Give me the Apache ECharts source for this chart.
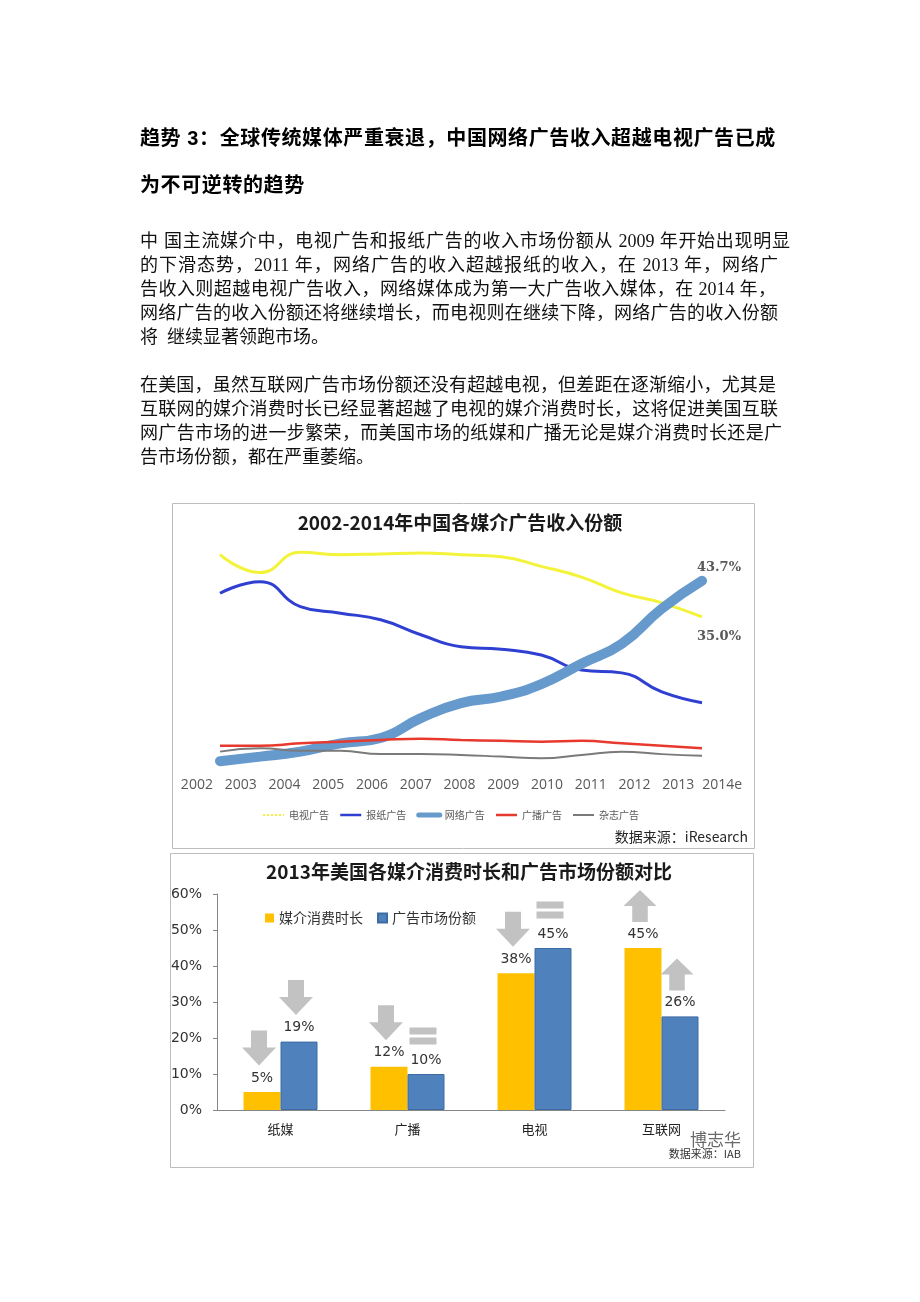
<!DOCTYPE html>
<html><head><meta charset="utf-8">
<script src="https://cdn.jsdelivr.net/npm/echarts@6/dist/echarts.min.js"></script>
<style>
html,body{margin:0;padding:0;background:#fff;}
#page{position:relative;width:920px;height:1302px;overflow:hidden;background:#fff;}
#chart{position:absolute;left:0;top:0;width:920px;height:1302px;}
.t{position:absolute;left:140px;white-space:nowrap;font-family:"Liberation Sans","Noto Sans CJK SC";font-weight:bold;font-size:20px;letter-spacing:0.6px;line-height:24px;color:#000;}
.p{position:absolute;left:140px;width:638px;font-family:"Liberation Serif","Noto Sans CJK SC";font-size:18px;line-height:24px;color:#111;text-align:justify;text-align-last:justify;}
.p.last{text-align:left;text-align-last:left;white-space:nowrap;}
</style></head>
<body>
<div id="page">
<div id="chart"></div>
<div class="t" style="top:126px">趋势 3：全球传统媒体严重衰退，中国网络广告收入超越电视广告已成</div>
<div class="t" style="top:173px">为不可逆转的趋势</div>
<div class="p" style="top:229px;width:650px">中 国主流媒介中，电视广告和报纸广告的收入市场份额从 2009 年开始出现明显</div>
<div class="p" style="top:253px">的下滑态势，2011 年，网络广告的收入超越报纸的收入，在 2013 年，网络广</div>
<div class="p" style="top:277px;width:636px">告收入则超越电视广告收入，网络媒体成为第一大广告收入媒体，在 2014 年，</div>
<div class="p" style="top:301px">网络广告的收入份额还将继续增长，而电视则在继续下降，网络广告的收入份额</div>
<div class="p last" style="top:325px">将&nbsp; 继续显著领跑市场。</div>
<div class="p" style="top:373px;width:636px">在美国，虽然互联网广告市场份额还没有超越电视，但差距在逐渐缩小，尤其是</div>
<div class="p" style="top:397px">互联网的媒介消费时长已经显著超越了电视的媒介消费时长，这将促进美国互联</div>
<div class="p" style="top:421px;width:642px">网广告市场的进一步繁荣，而美国市场的纸媒和广播无论是媒介消费时长还是广</div>
<div class="p last" style="top:445px">告市场份额，都在严重萎缩。</div>
</div>
<script>
// ---- China ad revenue share (%) 2002-2014e ----
const years = ['2002','2003','2004','2005','2006','2007','2008','2009','2010','2011','2012','2013','2014e'];
const tvShare    = [50.0, 45.7, 50.6, 50.0, 50.2, 50.4, 50.0, 49.5, 47.2, 44.6, 40.8, 38.4, 35.0];
const paperShare = [40.7, 43.5, 37.5, 35.9, 34.3, 30.7, 27.8, 27.2, 25.8, 22.2, 21.5, 16.9, 14.3];
const netShare   = [0.2, 1.3, 2.5, 4.5, 5.8, 10.6, 14.2, 15.8, 18.8, 23.7, 28.5, 37.0, 43.7];
const radioShare = [3.9, 3.9, 4.5, 4.9, 5.3, 5.6, 5.3, 5.1, 4.9, 5.1, 4.5, 3.9, 3.3];
const magShare   = [2.5, 3.3, 2.7, 2.7, 1.9, 1.9, 1.7, 1.3, 0.9, 1.7, 2.5, 1.9, 1.5];
const cnSeriesNames = ['电视广告','报纸广告','网络广告','广播广告','杂志广告'];

// ---- US 2013 media time vs ad share (%) ----
const usCats = ['纸媒','广播','电视','互联网'];
const usTime = [5, 12, 38, 45];
const usAd   = [19, 10, 45, 26];
const usTimeTrend = ['down','down','down','up'];
const usAdTrend   = ['down','equal','equal','up'];
const usTicks = [0, 10, 20, 30, 40, 50, 60];

const ARROWS = {
  down:  {path:'path://M9,0 L25,0 L25,17 L34,17 L17,35 L0,17 L9,17 Z', size:[34,35], dy:-44},
  up:    {path:'path://M17,0 L34,16 L25,16 L25,32 L9,32 L9,16 L0,16 Z', size:[33,32], dy:-42},
  equal: {path:'path://M0,0 L27,0 L27,7 L0,7 Z M0,10 L27,10 L27,17 L0,17 Z', size:[27,17], dy:-38}
};
function trendMarks(vals, trends){
  return {
    silent:true,
    label:{show:false},
    itemStyle:{color:'#C2C2C2'},
    data: vals.map((v,i)=>{
      const a = ARROWS[trends[i]];
      return {coord:[i, v], symbol:a.path, symbolSize:a.size, symbolOffset:[-3, a.dy]};
    })
  };
}

const CJK = '"Noto Sans CJK SC"';
const chart = echarts.init(document.getElementById('chart'), null, {renderer:'canvas'});
function endLbl(dy){
  return {show:true, distance:0, offset:[-5, dy],
    formatter:p=>Number(p.value).toFixed(1)+'%',
    fontFamily:'"DejaVu Serif"', fontWeight:'bold', fontSize:13, color:'#595959'};
}
const legendLine = (name, w, type) => ({name, itemStyle:{opacity:0}, lineStyle:{width:w, type:type||'solid'}});

chart.setOption({
  animation:false,
  backgroundColor:'transparent',
  grid:[
    {left:175, top:534, width:569, height:236},
    {left:220, top:534, width:482, height:228},
    {left:217, top:894, width:508, height:216}
  ],
  xAxis:[
    {gridIndex:0, type:'category', data:years, boundaryGap:true,
     axisLine:{show:false}, axisTick:{show:false},
     axisLabel:{interval:0, margin:8, fontSize:14, color:'#595959', fontFamily:'"Open Sans"'}},
    {gridIndex:1, type:'category', data:years, boundaryGap:false, show:false},
    {gridIndex:2, type:'category', data:usCats,
     axisLine:{lineStyle:{color:'#868686', width:1}}, axisTick:{show:false},
     axisLabel:{margin:13, fontSize:13, color:'#222', fontFamily:CJK}}
  ],
  yAxis:[
    {gridIndex:0, type:'value', show:false},
    {gridIndex:1, type:'value', min:0, max:55, show:false},
    {gridIndex:2, type:'value', min:usTicks[0], max:usTicks[usTicks.length-1], interval:10,
     axisLine:{show:true, lineStyle:{color:'#868686'}},
     axisTick:{show:true, length:4, lineStyle:{color:'#868686'}},
     splitLine:{show:false},
     axisLabel:{formatter:'{value}%', margin:15, fontSize:14, color:'#333', fontFamily:'"DejaVu Sans"'}}
  ],
  legend:[
    {left:262, top:810, padding:0, itemWidth:21, itemHeight:10, itemGap:10,
     textStyle:{fontSize:10, color:'#595959', fontFamily:CJK},
     data:[
       legendLine(cnSeriesNames[0], 2, 'dotted'),
       legendLine(cnSeriesNames[1], 2.5),
       legendLine(cnSeriesNames[2], 5),
       legendLine(cnSeriesNames[3], 2.5),
       legendLine(cnSeriesNames[4], 2)
     ]},
    {left:265, top:911, padding:0, itemWidth:9, itemHeight:9, itemGap:14, icon:'rect',
     textStyle:{fontSize:14, color:'#333', fontFamily:CJK},
     data:['媒介消费时长','广告市场份额']}
  ],
  series:[
    {name:cnSeriesNames[0], type:'line', xAxisIndex:1, yAxisIndex:1, data:tvShare, smooth:true, symbol:'none',
     lineStyle:{color:'#F3F33A', width:3}, itemStyle:{color:'#F3F33A'}, endLabel:endLbl(20)},
    {name:cnSeriesNames[1], type:'line', xAxisIndex:1, yAxisIndex:1, data:paperShare, smooth:true, symbol:'none',
     lineStyle:{color:'#2F3FD2', width:3}, itemStyle:{color:'#2F3FD2'}},
    {name:cnSeriesNames[2], type:'line', xAxisIndex:1, yAxisIndex:1, data:netShare, smooth:true, symbol:'none',
     lineStyle:{color:'#6699CC', width:10, cap:'round'}, itemStyle:{color:'#6699CC'}, endLabel:endLbl(-13)},
    {name:cnSeriesNames[3], type:'line', xAxisIndex:1, yAxisIndex:1, data:radioShare, smooth:true, symbol:'none',
     lineStyle:{color:'#E8392E', width:2.5}, itemStyle:{color:'#E8392E'}},
    {name:cnSeriesNames[4], type:'line', xAxisIndex:1, yAxisIndex:1, data:magShare, smooth:true, symbol:'none',
     lineStyle:{color:'#7A7A7A', width:2}, itemStyle:{color:'#7A7A7A'}},
    {name:'媒介消费时长', type:'bar', xAxisIndex:2, yAxisIndex:2, data:usTime, barWidth:37, barGap:'0%',
     itemStyle:{color:'#FFC000'},
     label:{show:true, position:'top', distance:7, formatter:'{c}%', fontSize:14, color:'#333', fontFamily:'"DejaVu Sans"'},
     markPoint:trendMarks(usTime, usTimeTrend)},
    {name:'广告市场份额', type:'bar', xAxisIndex:2, yAxisIndex:2, data:usAd, barWidth:37, barGap:'0%',
     itemStyle:{color:'#4F81BD', borderColor:'#3D6CA5', borderWidth:1},
     label:{show:true, position:'top', distance:7, formatter:'{c}%', fontSize:14, color:'#333', fontFamily:'"DejaVu Sans"'},
     markPoint:trendMarks(usAd, usAdTrend)}
  ],
  graphic:[
    {type:'rect', shape:{x:172.5, y:503.5, width:582, height:345}, style:{fill:'none', stroke:'#BDBDBD', lineWidth:1}},
    {type:'rect', shape:{x:170.5, y:853.5, width:583, height:314}, style:{fill:'none', stroke:'#BDBDBD', lineWidth:1}},
    {type:'text', x:460, y:523, style:{text:'2002-2014年中国各媒介广告收入份额', font:'bold 19px "Noto Sans CJK SC"', fill:'#1a1a1a', align:'center', verticalAlign:'middle', textAlign:'center', textVerticalAlign:'middle'}},
    {type:'text', x:469, y:872, style:{text:'2013年美国各媒介消费时长和广告市场份额对比', font:'bold 19px "Noto Sans CJK SC"', fill:'#1a1a1a', align:'center', verticalAlign:'middle', textAlign:'center', textVerticalAlign:'middle'}},
    {type:'text', x:748, y:837, style:{text:'数据来源：iResearch', font:'14px "Noto Sans CJK SC"', fill:'#262626', align:'right', verticalAlign:'middle', textAlign:'right', textVerticalAlign:'middle'}},
    {type:'text', x:741, y:1140, style:{text:'博志华', font:'17px "Noto Sans CJK SC"', fill:'#6a6a6a', align:'right', verticalAlign:'middle', textAlign:'right', textVerticalAlign:'middle'}},
    {type:'text', x:741, y:1154, style:{text:'数据来源：IAB', font:'11px "Noto Sans CJK SC"', fill:'#333', align:'right', verticalAlign:'middle', textAlign:'right', textVerticalAlign:'middle'}}
  ]
});
</script>
</body></html>
